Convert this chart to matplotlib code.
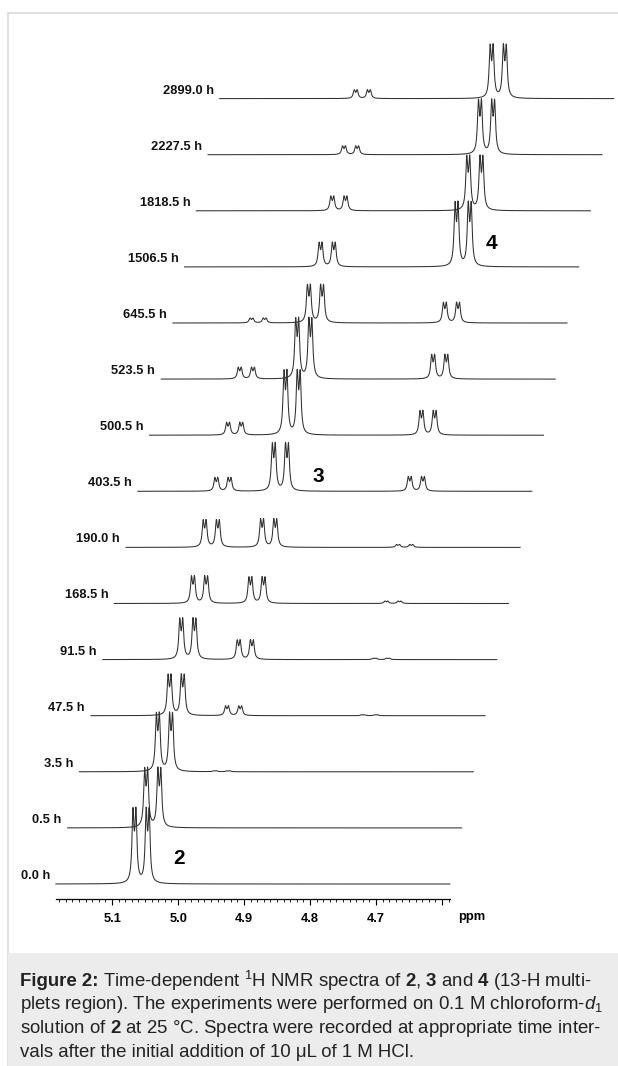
import numpy as np
import matplotlib
matplotlib.use('Agg')
import matplotlib.pyplot as plt
from matplotlib.patches import Rectangle
from matplotlib.ticker import MultipleLocator, FuncFormatter

plt.rcParams['font.family'] = ['Liberation Sans', 'DejaVu Sans']
plt.rcParams['mathtext.fontset'] = 'custom'
plt.rcParams['mathtext.rm'] = 'Liberation Sans'
plt.rcParams['mathtext.bf'] = 'Liberation Sans:bold'
plt.rcParams['mathtext.it'] = 'Liberation Sans:italic'

# time points (bottom to top)
times = ['0.0 h', '0.5 h', '3.5 h', '47.5 h', '91.5 h', '168.5 h', '190.0 h',
         '403.5 h', '500.5 h', '523.5 h', '645.5 h', '1506.5 h', '1818.5 h',
         '2227.5 h', '2899.0 h']

# 13-H multiplet centres (ppm) and couplings (ppm)
shift_2 = 5.056
shift_3 = 4.969
shift_4 = 4.763
j_big = 0.0200
j_small = 0.0045
half_width = 0.0018

# peak heights (arbitrary units)
height_2 = [77, 61, 60, 42, 42, 28, 28, 14, 13, 12, 5, 0, 0, 0, 0]
height_3 = [0, 0, 1, 10, 20, 27, 29, 49, 66, 62, 39, 25, 15, 9, 9]
height_4 = [0, 0, 0, 1, 1.5, 2.5, 3, 15, 25, 25, 21, 66, 56, 56, 55]

# spectral window of each trace
ppm_left, ppm_right = 5.185, 4.588
ppm = np.linspace(ppm_left, ppm_right, 4000)


def dd(x, centre):
    lines = [centre + a * j_big / 2 + b * j_small / 2 for a in (-1, 1) for b in (-1, 1)]
    y = sum(half_width**2 / ((x - c)**2 + half_width**2) for c in lines)
    return y / y.max()


W, H = 618, 1066
fig = plt.figure(figsize=(W / 100, H / 100), dpi=100)

# frame and caption panel
fig.patches.append(Rectangle((8 / W, 0), 1, (H - 13) / H, transform=fig.transFigure,
                             fill=False, edgecolor='#d9d9d9', lw=1.2))
fig.patches.append(Rectangle((8 / W, 0), 1, (H - 953) / H, transform=fig.transFigure,
                             facecolor='#ececec', edgecolor='none'))

# main axes: x in ppm, y in intensity units
ax = fig.add_axes([0, 0, 1, 1])
px_ppm = 0.1 / 66.0
ax.set_xlim(5.1 + 112 * px_ppm, 5.1 - (W - 112) * px_ppm)
ax.set_ylim(-(H - 884), 884)
ax.axis('off')

dx = 11.7 * px_ppm   # horizontal stacking step
dy = 56.1            # vertical stacking step

for i, label in enumerate(times):
    spec = (height_2[i] * dd(ppm, shift_2) + height_3[i] * dd(ppm, shift_3)
            + height_4[i] * dd(ppm, shift_4))
    x = ppm - i * dx
    ax.plot(x, spec + i * dy, color='#303030', lw=0.75, solid_joinstyle='round')
    ax.text(x[0] + 6 * px_ppm, i * dy + 2, label, ha='right', va='bottom',
            fontsize=9.3, fontweight='bold', color='#111111')

# compound labels
ax.text(4.998, 25, '2', ha='center', va='center', fontsize=15, fontweight='bold')
ax.text(4.912 - 7 * dx, 7 * dy + 15, '3', ha='center', va='center', fontsize=15, fontweight='bold')
ax.text(4.720 - 11 * dx, 11 * dy + 23, '4', ha='center', va='center', fontsize=15, fontweight='bold')

# ppm scale under the bottom trace
axs = fig.add_axes([56 / W, (H - 899) / H, 394 / W, 0.0001])
axs.set_facecolor('none')
for s in ('left', 'right', 'top'):
    axs.spines[s].set_visible(False)
axs.spines['bottom'].set_linewidth(0.9)
axs.set_yticks([])
axs.set_xlim(ppm_left, ppm_right)
axs.xaxis.set_major_locator(MultipleLocator(0.1))
axs.xaxis.set_minor_locator(MultipleLocator(0.01))
axs.xaxis.set_major_formatter(FuncFormatter(lambda v, p: '' if v < 4.65 else f'{v:.1f}'))
axs.tick_params(axis='x', which='major', length=4, width=0.8, pad=6, labelsize=9.3)
axs.tick_params(axis='x', which='minor', length=2, width=0.6)
for t in axs.get_xticklabels():
    t.set_fontweight('bold')
fig.text(472 / W, 1 - 917 / H, 'ppm', ha='center', va='center',
         fontsize=9.3, fontweight='bold')

# caption
cap_size = 13.4
cap_x = 20 / W
cap_y = [1 - (981 + k * 23.7) / H for k in range(4)]
fig.canvas.draw()
renderer = fig.canvas.get_renderer()
head = fig.text(cap_x, cap_y[0], 'Figure 2:', ha='left', va='center',
                fontsize=cap_size, fontweight='bold', color='#222222')
head_w = head.get_window_extent(renderer).width / W
fig.text(cap_x + head_w, cap_y[0],
         r" Time-dependent $^{\mathrm{1}}$H NMR spectra of $\mathbf{2}$, $\mathbf{3}$ and $\mathbf{4}$ (13-H multi-",
         ha='left', va='center', fontsize=cap_size, color='#222222')
rest = [
    r"plets region). The experiments were performed on 0.1 M chloroform-$\mathit{d}_{\mathrm{1}}$",
    r"solution of $\mathbf{2}$ at 25 °C. Spectra were recorded at appropriate time inter-",
    "vals after the initial addition of 10 μL of 1 M HCl.",
]
for k, line in enumerate(rest):
    fig.text(cap_x, cap_y[k + 1], line, ha='left', va='center',
             fontsize=cap_size, color='#222222')

fig.savefig('out.png', dpi=100)
